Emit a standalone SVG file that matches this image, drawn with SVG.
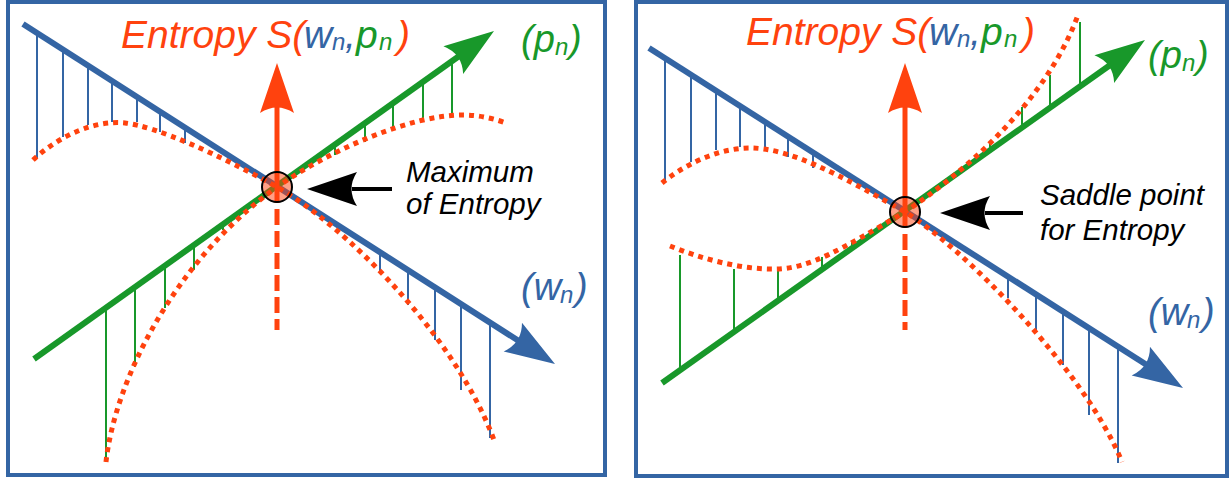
<svg xmlns="http://www.w3.org/2000/svg" width="1230" height="479" viewBox="0 0 1230 479">
<style>
.frame{fill:#fff;stroke:#3465a4;stroke-width:4}
.ax-b{stroke:#3465a4;stroke-width:6;fill:none}
.ax-g{stroke:#18982a;stroke-width:6;fill:none}
.tk-b{stroke:#3465a4;stroke-width:2;fill:none}
.tk-g{stroke:#18982a;stroke-width:2;fill:none}
.dot{stroke:#ff420e;stroke-width:5;stroke-dasharray:5 5;fill:none}
.ax-r{stroke:#ff420e;stroke-width:5;fill:none}
.ax-rd{stroke:#ff420e;stroke-width:5;stroke-dasharray:16 6;fill:none}
.pt{fill:#ff420e;fill-opacity:0.5;stroke:#000;stroke-width:2}
.t{font-family:"Liberation Sans",Arial,sans-serif;font-style:italic}
.red{fill:#ff420e}.blue{fill:#3465a4}.green{fill:#18982a}
</style>
<defs>
<path id="ah" d="M0,0 L-50,-17 Q-39,0 -50,17 Z"/>
</defs>
<rect class="frame" x="8" y="2" width="597" height="473"/>
<rect class="frame" x="636" y="2" width="591" height="474"/>

<g id="left-panel">
  <g id="left-axes">
    <line class="ax-b" x1="23" y1="24" x2="522" y2="343"/>
    <use href="#ah" fill="#3465a4" transform="translate(555,364) rotate(32.5)"/>
    <line class="ax-g" x1="34" y1="359" x2="462" y2="54"/>
    <use href="#ah" fill="#18982a" transform="translate(494,31) rotate(-35.5)"/>
    <line class="ax-r" x1="277" y1="100" x2="277" y2="187"/>
    <line class="ax-rd" x1="277" y1="187" x2="277" y2="330"/>
    <use href="#ah" fill="#ff420e" transform="translate(277,63) rotate(-90)"/>
  </g>
  <g id="left-ticks">
    <path class="tk-b" d="M37,33V158M63,49.6V137M88,65.5V125M112,80.9V122M137,96.8V122M160,111.5V132M185,127.5V143M380,252V273M408,270V305M435,287V340M461,304V390M490,322V438"/>
    <path class="tk-g" d="M106,308V462M135,287V367M165,266V308M194,245V270M223,224V230M335,144V155M365,123V142M393,103V127M423,82V118M452,61V117"/>
  </g>
  <g id="left-curves">
    <path class="dot" d="M33,160 C60,135 95,120 125,123 C155,126 220,155 277,187 C345,226 455,335 494,440"/>
    <path class="dot" d="M106,462 C115,380 175,260 277,187 C330,150 410,115 463,115 C480,115 495,119 506,123"/>
  </g>
  <g id="left-point">
    <circle class="pt" cx="277" cy="187" r="15"/>
    <use href="#ah" fill="#000" transform="translate(307,189) rotate(180)"/>
    <line x1="352" y1="189" x2="392" y2="189" stroke="#000" stroke-width="4"/>
    <text class="t" font-size="29.5" fill="#000" x="406" y="182">Maximum</text>
    <text class="t" font-size="29.5" fill="#000" x="406" y="214">of Entropy</text>
  </g>
  <g id="left-labels">
    <text class="t" font-size="39" y="48"><tspan class="red" x="121">Entropy S(</tspan><tspan class="blue" x="304">w</tspan><tspan class="blue" x="332" dy="2" font-size="24">n</tspan><tspan class="blue" x="345" dy="-2">,</tspan><tspan class="green" x="356">p</tspan><tspan class="green" x="379" dy="2" font-size="24">n</tspan><tspan class="red" x="397" dy="-2">)</tspan></text>
    <text class="t green" font-size="38" y="52"><tspan x="521">(p</tspan><tspan x="555" dy="3" font-size="24">n</tspan><tspan x="569" dy="-3">)</tspan></text>
    <text class="t blue" font-size="38" y="300"><tspan x="521">(w</tspan><tspan x="560" dy="3" font-size="24">n</tspan><tspan x="575" dy="-3">)</tspan></text>
  </g>
</g>

<g id="right-panel">
  <g id="right-axes">
    <line class="ax-b" x1="649" y1="48" x2="1150" y2="367"/>
    <use href="#ah" fill="#3465a4" transform="translate(1183,388) rotate(32.5)"/>
    <line class="ax-g" x1="662" y1="383" x2="1113" y2="63"/>
    <use href="#ah" fill="#18982a" transform="translate(1145,40) rotate(-35.5)"/>
    <line class="ax-r" x1="905" y1="100" x2="905" y2="212"/>
    <line class="ax-rd" x1="905" y1="212" x2="905" y2="330"/>
    <use href="#ah" fill="#ff420e" transform="translate(905,63) rotate(-90)"/>
  </g>
  <g id="right-ticks">
    <path class="tk-b" d="M665,58V183M691,75V162M716,91V150M740,106V147M765,122V147M788,136.5V157M813,152.5V168M1008,277V298M1036,294.5V330M1063,312V365M1089,328V415M1118,347V463"/>
    <path class="tk-g" d="M680,370V255M734,332V269M778,301V271M822,269V257M852,248V241M990,150V141M1022,127V107M1050,107.5V75M1080,86V22"/>
  </g>
  <g id="right-curves">
    <path class="dot" d="M662,183 C680,168 715,148 750,148 C790,148 840,175 905,212 C960,245 1085,370 1122,462"/>
    <path class="dot" d="M670,246 C700,258 740,270 777,269 C810,268 840,250 905,212 C960,175 1045,105 1078,15"/>
  </g>
  <g id="right-point">
    <circle class="pt" cx="905" cy="212" r="15"/>
    <use href="#ah" fill="#000" transform="translate(940,213) rotate(180)"/>
    <line x1="985" y1="213" x2="1023" y2="213" stroke="#000" stroke-width="4"/>
    <text class="t" font-size="29.5" fill="#000" x="1040" y="205">Saddle point</text>
    <text class="t" font-size="29.5" fill="#000" x="1040" y="240">for Entropy</text>
  </g>
  <g id="right-labels">
    <text class="t" font-size="39" y="45"><tspan class="red" x="746">Entropy S(</tspan><tspan class="blue" x="929">w</tspan><tspan class="blue" x="957" dy="2" font-size="24">n</tspan><tspan class="blue" x="970" dy="-2">,</tspan><tspan class="green" x="981">p</tspan><tspan class="green" x="1004" dy="2" font-size="24">n</tspan><tspan class="red" x="1022" dy="-2">)</tspan></text>
    <text class="t green" font-size="38" y="68"><tspan x="1148">(p</tspan><tspan x="1182" dy="3" font-size="24">n</tspan><tspan x="1196" dy="-3">)</tspan></text>
    <text class="t blue" font-size="38" y="325"><tspan x="1148">(w</tspan><tspan x="1187" dy="3" font-size="24">n</tspan><tspan x="1202" dy="-3">)</tspan></text>
  </g>
</g>
</svg>
